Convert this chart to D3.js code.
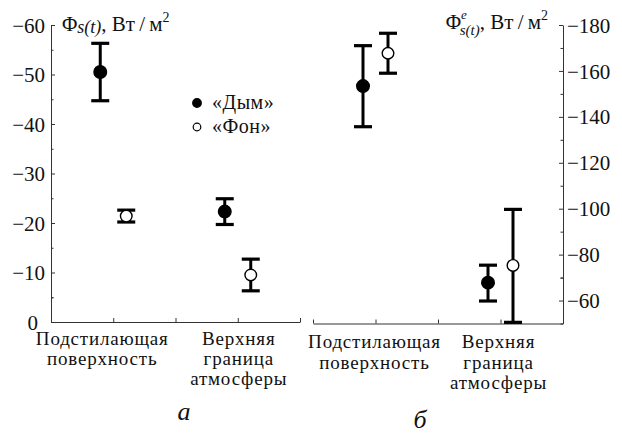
<!DOCTYPE html>
<html>
<head>
<meta charset="utf-8">
<script src="https://cdn.jsdelivr.net/npm/d3@7"></script>
</head>
<body style="margin:0">
<script>
// categories on the x axis
var categories = [["Подстилающая", "поверхность"], ["Верхняя", "граница", "атмосферы"]];
var seriesNames = ["«Дым»", "«Фон»"];

// panel a: Φs(t), W/m2
var aSmoke = [-50.5, -22.3], aSmokeHi = [-56.3, -24.9], aSmokeLo = [-44.7, -19.7];
var aBack = [-21.4, -9.5], aBackHi = [-22.6, -12.7], aBackLo = [-20.2, -6.3];
var aTicks = [0, -10, -20, -30, -40, -50, -60];

// panel b: Φe s(t), W/m2
var bSmoke = [-153.4, -67.8], bSmokeHi = [-171, -75.4], bSmokeLo = [-135.7, -59.8];
var bBack = [-167.7, -75.3], bBackHi = [-176.4, -99.7], bBackLo = [-159, -50.5];
var bTicks = [-60, -80, -100, -120, -140, -160, -180];

var SERIF = "'Times New Roman', 'Tinos', 'Liberation Serif', 'FreeSerif', 'Nimbus Roman', 'DejaVu Serif'";

var svg = d3.select("body").append("svg")
    .attr("width", 622)
    .attr("height", 434)
    .attr("font-family", SERIF);

// every text gets the serif face both as attribute and inline style
function serif(t, size) {
  return t.attr("font-family", SERIF).style("font-family", SERIF).style("font-size", size + "px");
}

function fmt(d) { return d === 0 ? "0" : "\u2212" + Math.abs(d); }

function styleAxis(g) {
  g.attr("font-family", SERIF);
  g.selectAll("path, line").attr("stroke", "#333").attr("stroke-width", 1);
}

function drawPanel(p) {
  var x = d3.scaleLinear().domain([0, 4]).range(p.xRange);
  var y = d3.scaleLinear().domain(p.yDomain).range(p.yRange);
  var catPos = [1, 3];

  // x axis, ticks point inward
  svg.append("g")
      .attr("transform", "translate(0," + p.yRange[0] + ")")
      .call(d3.axisTop(x).tickValues([0, 1, 2, 3, 4]).tickSize(4).tickFormat("").tickSizeOuter(0))
      .call(styleAxis);

  // y axis
  var yAxis = p.right ? d3.axisLeft(y) : d3.axisRight(y);
  var ya = svg.append("g")
      .attr("transform", "translate(" + (p.right ? p.xRange[1] : p.xRange[0]) + ",0)")
      .call(yAxis.tickValues(p.ticks).tickSize(4).tickSizeOuter(0).tickFormat(fmt))
      .call(styleAxis);
  ya.selectAll("text")
      .attr("x", p.right ? 4 : -6)
      .attr("dy", "0.34em")
      .attr("text-anchor", p.right ? "start" : "end")
      .attr("fill", "#111")
      .call(serif, 21);
  if (!p.right) ya.selectAll(".tick text").filter(function(d) { return d === 0; }).attr("x", -13);

  // minor ticks
  var step = p.ticks[1] - p.ticks[0];
  var lo = Math.min(p.yDomain[0], p.yDomain[1]), hi = Math.max(p.yDomain[0], p.yDomain[1]);
  var minor = p.ticks.map(function(t) { return t - step / 2; })
      .concat([p.ticks[0] + step / 2])
      .filter(function(t) { return t <= hi && t >= lo; });
  svg.append("g")
      .attr("transform", "translate(" + (p.right ? p.xRange[1] : p.xRange[0]) + ",0)")
      .call((p.right ? d3.axisLeft(y) : d3.axisRight(y)).tickValues(minor).tickSize(2.5).tickFormat(""))
      .call(styleAxis)
      .select(".domain").remove();

  // category labels
  categories.forEach(function(lines, i) {
    var cx = x(catPos[i]) + p.labelShift[i];
    lines.forEach(function(l, j) {
      svg.append("text")
          .attr("x", cx)
          .attr("y", p.labelY + j * p.lineGap)
          .attr("text-anchor", "middle")
          .attr("fill", "#111")
          .call(serif, 19)
          .style("letter-spacing", "0.8px")
          .text(l);
    });
  });

  // error bars and points
  var series = [
    { v: p.smoke, hi: p.smokeHi, lo: p.smokeLo, dx: -p.off, filled: true },
    { v: p.back, hi: p.backHi, lo: p.backLo, dx: p.off, filled: false }
  ];
  series.forEach(function(s) {
    var g = svg.append("g");
    s.v.forEach(function(v, i) {
      var cx = x(catPos[i]) + s.dx;
      g.append("line").attr("x1", cx).attr("x2", cx).attr("y1", y(s.hi[i])).attr("y2", y(s.lo[i]))
          .attr("stroke", "#000").attr("stroke-width", 3);
      [s.hi[i], s.lo[i]].forEach(function(e) {
        g.append("line").attr("x1", cx - 9).attr("x2", cx + 9).attr("y1", y(e)).attr("y2", y(e))
            .attr("stroke", "#000").attr("stroke-width", 3.2);
      });
      g.append("circle").attr("cx", cx).attr("cy", y(v)).attr("r", s.filled ? 6.3 : 5.8)
          .attr("fill", s.filled ? "#000" : "#fff")
          .attr("stroke", "#000").attr("stroke-width", 1.4);
    });
  });

  // panel letter
  svg.append("text")
      .attr("x", p.letterX).attr("y", p.letterY)
      .attr("text-anchor", "middle")
      .attr("fill", "#111")
      .call(serif, 26)
      .style("font-style", "italic")
      .text(p.letter);
}

drawPanel({
  xRange: [51, 300], yDomain: [0, -60], yRange: [322, 25], ticks: aTicks,
  smoke: aSmoke, smokeHi: aSmokeHi, smokeLo: aSmokeLo,
  back: aBack, backHi: aBackHi, backLo: aBackLo,
  off: 13, right: false, labelY: 345, lineGap: 20, labelShift: [-11, 1],
  letter: "а", letterX: 184, letterY: 420
});
drawPanel({
  xRange: [313, 563], yDomain: [-50, -180], yRange: [323.5, 25], ticks: bTicks,
  smoke: bSmoke, smokeHi: bSmokeHi, smokeLo: bSmokeLo,
  back: bBack, backHi: bBackHi, backLo: bBackLo,
  off: 12.5, right: true, labelY: 348, lineGap: 20.5, labelShift: [-1, -2],
  letter: "б", letterX: 420, letterY: 428
});

// y labels
var la = svg.append("text").attr("x", 62).attr("y", 31).attr("fill", "#111").call(serif, 21);
la.append("tspan").text("Φ");
la.append("tspan").attr("dy", 2).style("font-style", "italic").style("font-size", "18px").text("s(t)");
la.append("tspan").attr("dy", -2).text(",  Вт\u2009/\u2009м");
la.append("tspan").attr("dy", -9).style("font-size", "14px").text("2");

var lb = svg.append("text").attr("x", 548).attr("y", 29).attr("fill", "#111")
    .attr("text-anchor", "end").call(serif, 21);
lb.append("tspan").text("Φ");
lb.append("tspan").attr("dy", -10).style("font-style", "italic").style("font-size", "13px").text("e");
lb.append("tspan").attr("dx", -7).attr("dy", 15.5).style("font-style", "italic").style("font-size", "15px").text("s(t)");
lb.append("tspan").attr("dy", -5.5).text(",  Вт\u2009/\u2009м");
lb.append("tspan").attr("dy", -9).style("font-size", "14px").text("2");

// legend
seriesNames.forEach(function(n, i) {
  var ly = 103 + i * 24;
  svg.append("circle").attr("cx", 197).attr("cy", ly).attr("r", i === 0 ? 4.3 : 3.8)
      .attr("fill", i === 0 ? "#000" : "#fff").attr("stroke", "#000").attr("stroke-width", 1.2);
  svg.append("text").attr("x", 212).attr("y", ly + 6).attr("fill", "#111")
      .call(serif, 20).style("letter-spacing", "0.5px").text(n);
});
</script>
</body>
</html>
